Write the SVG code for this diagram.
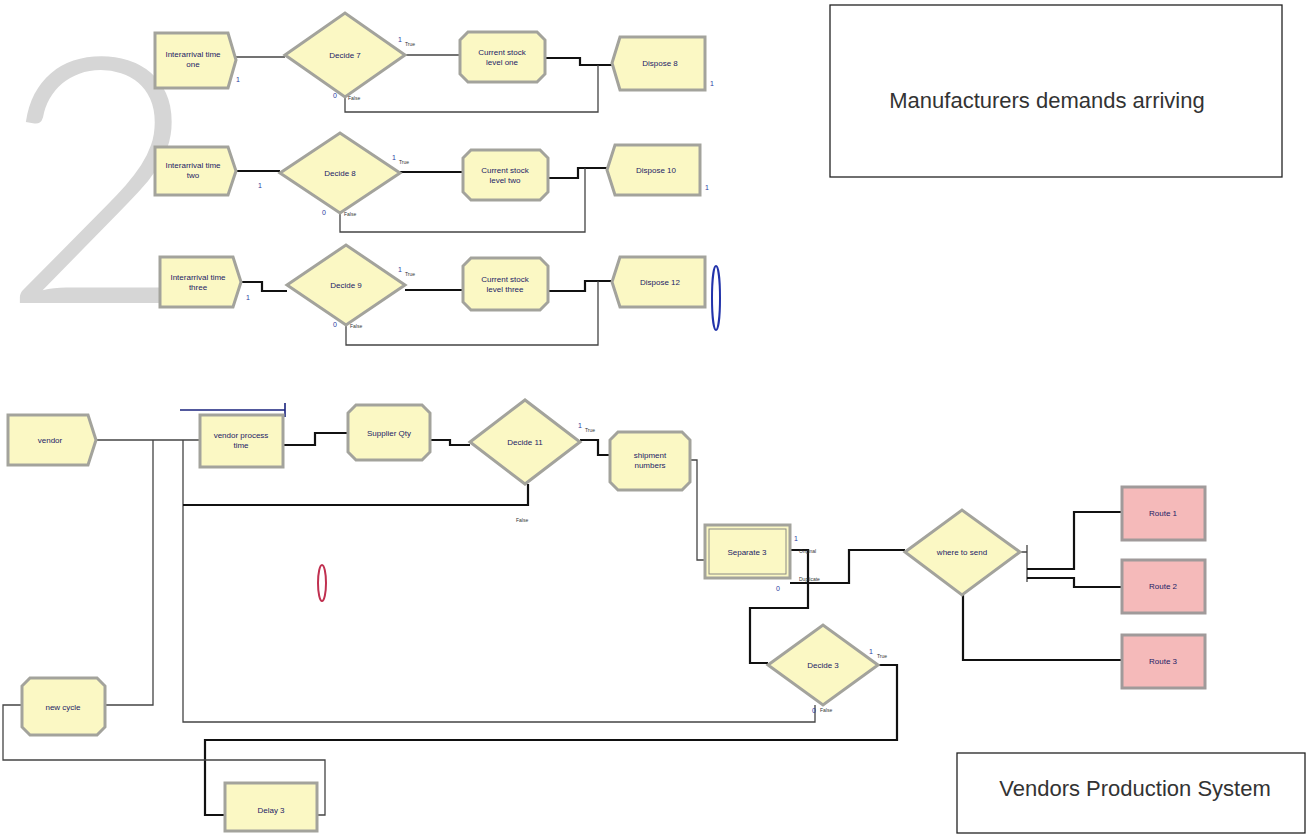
<svg xmlns="http://www.w3.org/2000/svg" width="1310" height="837" viewBox="0 0 1310 837">
<style>
.node{fill:#fbf8c4;stroke:#a3a39c;stroke-width:3}
.route{fill:#f5baba;stroke:#a09a9a;stroke-width:3}
.t{font-family:"Liberation Sans",Arial,sans-serif;font-size:8px;fill:#1c1c66;text-anchor:middle}
.s{font-family:"Liberation Sans",Arial,sans-serif;font-size:5px;fill:#333;text-anchor:start}
.n{font-family:"Liberation Sans",Arial,sans-serif;font-size:7px;fill:#2a3aa0;text-anchor:start}
.c{fill:none;stroke:#444;stroke-width:1.3}
.k{fill:none;stroke:#111;stroke-width:2.2}
.box{fill:#fff;stroke:#222;stroke-width:1.3}
.big{font-family:"Liberation Sans",Arial,sans-serif;font-size:22px;fill:#333;text-anchor:middle}
</style>
<rect width="1310" height="837" fill="#fff"/>
<text x="0" y="303" font-family="Lato,'Liberation Sans',sans-serif" font-weight="300" font-size="345" fill="#d6d6d6">2</text>

<g id="connectors">
<path class="c" d="M236,57 H285"/>
<path class="c" d="M405,55 H460"/>
<path class="k" d="M545,58 H580 V65 H612"/>
<path class="c" d="M345,97 V112 H598 V65"/>
<path class="k" d="M236,171 H280"/>
<path class="k" d="M400,172 H463"/>
<path class="k" d="M548,178 H578 V168 H607"/>
<path class="c" d="M340,213 V232 H585 V168"/>
<path class="k" d="M241,282 H262 V291 H287"/>
<path class="k" d="M405,290 H463"/>
<path class="k" d="M548,291 H585 V281 H612"/>
<path class="c" d="M346,325 V345 H598 V281"/>

<path class="c" d="M96,440 H200"/>
<path d="M180,410 H285 M285,403 V417" fill="none" stroke="#1a237e" stroke-width="1.6"/>
<path class="c" d="M105,705 H153 V440"/>
<path class="c" d="M183,440 V722 H815 V705"/>
<path class="k" d="M183,505 H528 V484"/>
<path class="k" d="M283,445 H315 V433 H348"/>
<path class="k" d="M430,440 H450 V445 H470"/>
<path class="k" d="M580,440 H598 V455 H610"/>
<path class="c" d="M690,460 H697 V560 H705"/>
<path class="k" d="M790,550 H808 V608 H750 V663 H768"/>
<path class="k" d="M790,583 H849 V550 H905"/>
<path class="c" d="M1020,552 H1027 M1027,545 V582"/>
<path class="k" d="M1027,569 H1074 V512 H1122"/>
<path class="k" d="M1027,578 H1074 V587 H1122"/>
<path class="k" d="M963,595 V660 H1122"/>
<path class="k" d="M878,665 H897 V740 H205 V815 H225"/>
<path class="c" d="M317,815 H325 V760 H3 V705 H22"/>
</g>

<g id="create1"><polygon class="node" points="155,33 228,33 236,60 228,88 155,88"/><text class="t" x="193" y="57">Interarrival time</text><text class="t" x="193" y="67">one</text><text class="n" x="236" y="82">1</text></g>
<g id="decide7"><polygon class="node" points="285,55 345,13 405,55 345,97"/><text class="t" x="345" y="58">Decide 7</text><text class="n" x="398" y="42">1</text><text class="s" x="405" y="46">True</text><text class="n" x="333" y="98">0</text><text class="s" x="348" y="100">False</text></g>
<g id="assign1"><polygon class="node" points="468,32 537,32 545,40 545,74 537,82 468,82 460,74 460,40"/><text class="t" x="502" y="55">Current stock</text><text class="t" x="502" y="65">level one</text></g>
<g id="dispose8"><polygon class="node" points="620,37 705,37 705,90 620,90 612,63"/><text class="t" x="660" y="66">Dispose 8</text><text class="n" x="710" y="86">1</text></g>

<g id="create2"><polygon class="node" points="155,147 228,147 236,171 228,195 155,195"/><text class="t" x="193" y="168">Interarrival time</text><text class="t" x="193" y="178">two</text><text class="n" x="258" y="188">1</text></g>
<g id="decide8"><polygon class="node" points="280,173 340,133 400,173 340,213"/><text class="t" x="340" y="176">Decide 8</text><text class="n" x="392" y="160">1</text><text class="s" x="399" y="164">True</text><text class="n" x="322" y="215">0</text><text class="s" x="344" y="216">False</text></g>
<g id="assign2"><polygon class="node" points="471,150 540,150 548,158 548,192 540,200 471,200 463,192 463,158"/><text class="t" x="505" y="173">Current stock</text><text class="t" x="505" y="183">level two</text></g>
<g id="dispose10"><polygon class="node" points="615,145 700,145 700,195 615,195 607,170"/><text class="t" x="656" y="173">Dispose 10</text><text class="n" x="705" y="190">1</text></g>

<g id="create3"><polygon class="node" points="160,257 233,257 241,282 233,307 160,307"/><text class="t" x="198" y="280">Interarrival time</text><text class="t" x="198" y="290">three</text><text class="n" x="246" y="300">1</text></g>
<g id="decide9"><polygon class="node" points="287,285 346,245 405,285 346,325"/><text class="t" x="346" y="288">Decide 9</text><text class="n" x="398" y="272">1</text><text class="s" x="405" y="276">True</text><text class="n" x="333" y="327">0</text><text class="s" x="350" y="328">False</text></g>
<g id="assign3"><polygon class="node" points="471,258 540,258 548,266 548,302 540,310 471,310 463,302 463,266"/><text class="t" x="505" y="282">Current stock</text><text class="t" x="505" y="292">level three</text></g>
<g id="dispose12"><polygon class="node" points="620,257 705,257 705,307 620,307 612,282"/><text class="t" x="660" y="285">Dispose 12</text></g>
<ellipse cx="716" cy="298" rx="4" ry="32" fill="#fff" stroke="#2233aa" stroke-width="2"/>
<ellipse cx="322" cy="583" rx="4" ry="18" fill="#fff" stroke="#c03050" stroke-width="2"/>

<g id="textbox1"><rect class="box" x="830" y="5" width="452" height="172"/><text class="big" x="1047" y="108">Manufacturers demands arriving</text></g>
<g id="textbox2"><rect class="box" x="957" y="753" width="348" height="80"/><text class="big" x="1135" y="796">Vendors Production System</text></g>

<g id="vendor"><polygon class="node" points="8,415 88,415 96,440 88,465 8,465"/><text class="t" x="50" y="443">vendor</text></g>
<g id="vendorprocess"><rect class="node" x="200" y="415" width="83" height="52"/><text class="t" x="241" y="438">vendor process</text><text class="t" x="241" y="448">time</text></g>
<g id="supplierqty"><polygon class="node" points="356,405 422,405 430,413 430,452 422,460 356,460 348,452 348,413"/><text class="t" x="389" y="436">Supplier Qty</text></g>
<g id="decide11"><polygon class="node" points="470,442 525,400 580,442 525,484"/><text class="t" x="525" y="445">Decide 11</text><text class="n" x="578" y="428">1</text><text class="s" x="585" y="432">True</text><text class="s" x="516" y="522">False</text></g>
<g id="shipment"><polygon class="node" points="618,432 682,432 690,440 690,482 682,490 618,490 610,482 610,440"/><text class="t" x="650" y="458">shipment</text><text class="t" x="650" y="468">numbers</text></g>
<g id="separate3"><rect class="node" x="705" y="525" width="85" height="53"/><rect x="709" y="529" width="77" height="45" fill="none" stroke="#8a8a84" stroke-width="1"/><text class="t" x="747" y="555">Separate 3</text><text class="n" x="794" y="541">1</text><text class="s" x="799" y="553">Original</text><text class="s" x="799" y="581">Duplicate</text><text class="n" x="776" y="591">0</text></g>
<g id="wheretosend"><polygon class="node" points="905,552 962,510 1020,552 962,595"/><text class="t" x="962" y="555">where to send</text></g>
<g id="route1"><rect class="route" x="1122" y="487" width="83" height="53"/><text class="t" x="1163" y="516">Route 1</text></g>
<g id="route2"><rect class="route" x="1122" y="560" width="83" height="53"/><text class="t" x="1163" y="589">Route 2</text></g>
<g id="route3"><rect class="route" x="1122" y="635" width="83" height="53"/><text class="t" x="1163" y="664">Route 3</text></g>
<g id="decide3"><polygon class="node" points="768,665 823,625 878,665 823,705"/><text class="t" x="823" y="668">Decide 3</text><text class="n" x="869" y="654">1</text><text class="s" x="877" y="658">True</text><text class="n" x="812" y="713">0</text><text class="s" x="820" y="712">False</text></g>
<g id="newcycle"><polygon class="node" points="30,678 97,678 105,686 105,727 97,735 30,735 22,727 22,686"/><text class="t" x="63" y="710">new cycle</text></g>
<g id="delay3"><rect class="node" x="225" y="783" width="92" height="48"/><text class="t" x="271" y="813">Delay 3</text></g>
</svg>
